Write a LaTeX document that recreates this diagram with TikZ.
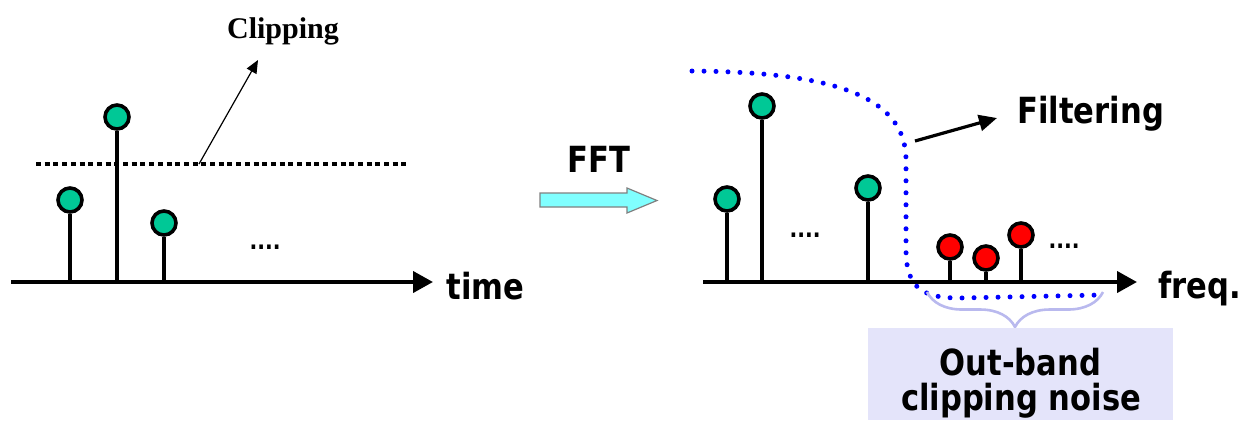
\documentclass[tikz,border=0pt]{standalone}
\usepackage{fontspec}
\usetikzlibrary{arrows.meta,decorations.pathreplacing}
\newfontfamily\labfont[FakeStretch=0.85]{DejaVu Sans}
\newfontfamily\capfont{Liberation Serif}
\definecolor{stemgreen}{RGB}{0,200,150}
\definecolor{fftcyan}{RGB}{128,255,255}
\definecolor{bracelav}{RGB}{185,185,238}
\definecolor{boxlav}{RGB}{228,228,250}
\definecolor{filtblue}{RGB}{0,0,255}
\tikzset{
  axis/.style={line width=2pt,-{Triangle[length=10pt,width=10.5pt]}},
  stem/.style={line width=1.8pt},
  gdot/.style={circle,draw=black,line width=1.8pt,fill=stemgreen,minimum size=12pt,inner sep=0pt},
  rdot/.style={circle,draw=black,line width=1.8pt,fill=red,minimum size=12pt,inner sep=0pt},
  lab/.style={font=\labfont\bfseries\fontsize{18}{21}\selectfont,inner sep=0pt},
  ellip/.style={font=\labfont\bfseries\fontsize{12}{14}\selectfont,inner sep=0pt,anchor=base},
  clipline/.style={line width=2pt,dash pattern=on 2.5pt off 1.85pt},
  filtcurve/.style={draw=filtblue,line width=2.5pt,line cap=round,dash pattern=on 0pt off 6pt},
}
\begin{document}
\begin{tikzpicture}[x=0.5pt,y=-0.5pt]
\useasboundingbox (0,0) rectangle (1242,420);

% ---- time domain ----
\coordinate (t0) at (11,282);
\coordinate (t1) at (433,282);
\draw[axis] (t0) -- (t1);
\node[lab,anchor=base west] (time) at (446,299) {time};

\node[gdot] (g1) at (70,200) {};
\node[gdot] (g2) at (117,117) {};
\node[gdot] (g3) at (164,223) {};
\foreach \i/\x in {1/70,2/117,3/164}{
  \coordinate (gb\i) at (\x,282);
  \draw[stem] (gb\i) -- (g\i);
}
\node[ellip] (tdots) at (265,249) {....};

% clipping threshold
\coordinate (c0) at (36,164);
\coordinate (c1) at (410,164);
\coordinate (cp) at (199,164);
\draw[clipline] (c0) -- (c1);
\node[font=\capfont\bfseries\fontsize{15}{18}\selectfont,inner sep=0pt,anchor=base] (clip) at (283,38) {Clipping};
\coordinate (ct) at (258,60);
\draw[line width=0.6pt,-{Triangle[length=6.5pt,width=5.5pt]}] (cp) -- (ct);

% ---- FFT arrow ----
\node[lab,anchor=base] (fft) at (599,172) {FFT};
\filldraw[fill=fftcyan,draw=gray,line width=0.6pt]
  (540,193) -- (627,193) -- (627,188) -- (657,200.5) -- (627,213) -- (627,207) -- (540,207) -- cycle;

% ---- frequency domain ----
\coordinate (f0) at (703,282);
\coordinate (f1) at (1137,282);
\draw[axis] (f0) -- (f1);
\node[lab,anchor=base west] (freq) at (1158,298) {freq.};

\node[gdot] (h1) at (727,199) {};
\node[gdot] (h2) at (762,106) {};
\node[gdot] (h3) at (868,188) {};
\foreach \i/\x in {1/727,2/762,3/868}{
  \coordinate (hb\i) at (\x,282);
  \draw[stem] (hb\i) -- (h\i);
}
\node[ellip] (fdots) at (805,237) {....};

\node[rdot] (r1) at (950,247) {};
\node[rdot] (r2) at (986,258) {};
\node[rdot] (r3) at (1021,235) {};
\foreach \i/\x in {1/950,2/986,3/1021}{
  \coordinate (rb\i) at (\x,282);
  \draw[stem] (rb\i) -- (r\i);
}
\node[ellip] (ndots) at (1064,248) {....};

% filter response
\draw[filtcurve] (692,71) .. controls (830,72) and (906,95) .. (906,160)
  -- (906,250) .. controls (906,290) and (925,298) .. (960,298) -- (1100,295);

\coordinate (fa) at (915,141);
\coordinate (fb) at (997,118);
\draw[line width=1.6pt,-{Triangle[length=9pt,width=8pt]}] (fa) -- (fb);
\node[lab,anchor=base west] (filt) at (1017,123) {Filtering};

% out-band noise label
\coordinate (bl) at (927,292);
\coordinate (br) at (1103,292);
\draw[bracelav,line width=1.3pt,decorate,decoration={brace,mirror,amplitude=17.5pt}] (bl) -- (br);
\node[fill=boxlav,minimum width=152.5pt,minimum height=46pt,anchor=north,inner sep=0pt] (obox) at (1020.5,328) {};
\node[lab,anchor=base] (ob1) at (1020.5,375) {Out-band};
\node[lab,anchor=base] (ob2) at (1021,410) {clipping noise};
\end{tikzpicture}
\end{document}
